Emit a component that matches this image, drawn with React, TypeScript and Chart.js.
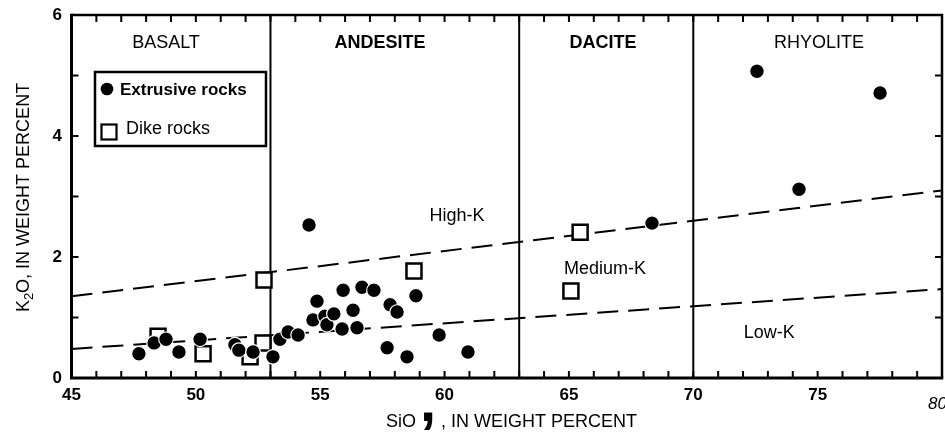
import { useEffect, useRef } from 'react';
import { Chart, registerables } from 'chart.js';

Chart.register(...registerables);

// Extrusive rocks (filled circles): SiO2 and K2O, weight percent
const extrusiveSiO2 = [
  47.71, 48.32, 48.8, 49.32, 50.17, 51.57, 51.73, 52.3, 53.1, 53.38, 53.71, 54.11,
  54.55, 54.87, 54.71, 55.19, 55.27, 55.55, 55.88, 55.92, 56.32, 56.48, 56.68, 57.16,
  57.69, 57.81, 58.09, 58.49, 58.85, 59.78, 60.94, 68.34, 72.56, 77.51, 74.25,
];
const extrusiveK2O = [
  0.4, 0.58, 0.64, 0.43, 0.64, 0.55, 0.46, 0.43, 0.35, 0.64, 0.76, 0.71,
  2.53, 1.27, 0.96, 1.02, 0.88, 1.06, 0.81, 1.45, 1.12, 0.83, 1.5, 1.45,
  0.5, 1.21, 1.09, 0.35, 1.36, 0.71, 0.43, 2.56, 5.07, 4.71, 3.12,
];

// Dike rocks (open squares)
const dikeSiO2 = [48.48, 50.29, 52.18, 52.7, 52.74, 58.77, 65.45, 65.08];
const dikeK2O = [0.69, 0.4, 0.35, 0.58, 1.62, 1.77, 2.41, 1.44];

// Dashed series boundaries
const highKSiO2 = [45, 80];
const highKK2O = [1.35, 3.1];
const lowKSiO2 = [45, 80];
const lowKK2O = [0.48, 1.47];

// Rock-name field boundaries (SiO2)
const fieldBoundaries = [53, 63, 70];

// Axis tick labels
const xTickValues = [45, 50, 55, 60, 65, 70, 75];
const xEndTick = 80;
const yTickValues = [0, 2, 4, 6];

const FONT = '"Liberation Sans", Arial, Helvetica, sans-serif';

const zip = (xs: number[], ys: number[]) => xs.map((v, i) => ({ x: v, y: ys[i] }));

const decorPlugin = {
  id: 'decor',
  beforeDatasetsDraw(chart: any) {
    const { ctx, chartArea: a, scales } = chart;
    const x = scales.x;
    ctx.save();
    ctx.strokeStyle = '#000';
    ctx.lineWidth = 2;
    fieldBoundaries.forEach((v) => {
      const px = x.getPixelForValue(v);
      ctx.beginPath();
      ctx.moveTo(px, a.top);
      ctx.lineTo(px, a.bottom);
      ctx.stroke();
    });
    ctx.restore();
  },
  afterDatasetsDraw(chart: any) {
    const { ctx, chartArea: a, scales } = chart;
    const x = scales.x;
    const y = scales.y;
    ctx.save();
    ctx.strokeStyle = '#000';
    ctx.lineCap = 'butt';

    // frame
    ctx.lineWidth = 2.5;
    ctx.beginPath();
    ctx.moveTo(a.left, a.top);
    ctx.lineTo(a.right, a.top);
    ctx.lineTo(a.right, a.bottom);
    ctx.stroke();
    ctx.lineWidth = 3;
    ctx.beginPath();
    ctx.moveTo(a.left, a.top - 1.25);
    ctx.lineTo(a.left, a.bottom);
    ctx.lineTo(a.right + 1.25, a.bottom);
    ctx.stroke();

    // inward tick marks
    const tl = 7;
    ctx.lineWidth = 2;
    for (let v = 46; v < 80; v++) {
      const px = x.getPixelForValue(v);
      ctx.beginPath();
      ctx.moveTo(px, a.bottom);
      ctx.lineTo(px, a.bottom - tl);
      ctx.moveTo(px, a.top);
      ctx.lineTo(px, a.top + tl);
      ctx.stroke();
    }
    for (let v = 1; v < 6; v++) {
      const py = y.getPixelForValue(v);
      ctx.beginPath();
      ctx.moveTo(a.left, py);
      ctx.lineTo(a.left + tl, py);
      ctx.moveTo(a.right, py);
      ctx.lineTo(a.right - tl, py);
      ctx.stroke();
    }
    ctx.restore();
  },
  afterDraw(chart: any) {
    const { ctx, chartArea: a, scales } = chart;
    const x = scales.x;
    const y = scales.y;
    ctx.save();
    ctx.fillStyle = '#000';
    ctx.textBaseline = 'middle';
    ctx.textAlign = 'center';

    // field names
    const fields = [
      { text: 'BASALT', sx: 48.8, bold: false },
      { text: 'ANDESITE', sx: 57.4, bold: true },
      { text: 'DACITE', sx: 66.37, bold: true },
      { text: 'RHYOLITE', sx: 75.05, bold: false },
    ];
    fields.forEach((f) => {
      ctx.font = `${f.bold ? 'bold ' : ''}18px ${FONT}`;
      ctx.fillText(f.text, x.getPixelForValue(f.sx), y.getPixelForValue(5.54));
    });

    // potassium series names
    ctx.font = `18px ${FONT}`;
    ctx.fillText('High-K', x.getPixelForValue(60.5), y.getPixelForValue(2.68));
    ctx.fillText('Medium-K', x.getPixelForValue(66.45), y.getPixelForValue(1.8));
    ctx.fillText('Low-K', x.getPixelForValue(73.05), y.getPixelForValue(0.74));

    // last x tick label, italic
    ctx.font = `italic 17px ${FONT}`;
    ctx.textAlign = 'left';
    ctx.textBaseline = 'alphabetic';
    ctx.fillText(String(xEndTick), x.getPixelForValue(xEndTick) - 14, a.bottom + 31);

    // x-axis title
    ctx.font = `18px ${FONT}`;
    let tx = 386;
    const ty = a.bottom + 49;
    ctx.fillText('SiO', tx, ty);
    tx += ctx.measureText('SiO').width + 4;
    ctx.font = `bold 58px ${FONT}`;
    ctx.fillText(',', tx, ty - 6);
    ctx.font = `18px ${FONT}`;
    ctx.fillText(', IN WEIGHT PERCENT', 441, ty);

    // y-axis title with subscript
    ctx.save();
    ctx.translate(29, 197.5);
    ctx.rotate(-Math.PI / 2);
    const big = `18px ${FONT}`;
    const small = `13px ${FONT}`;
    const parts = [
      { t: 'K', f: big, dy: 0 },
      { t: '2', f: small, dy: 4 },
      { t: 'O, IN WEIGHT PERCENT', f: big, dy: 0 },
    ];
    let total = 0;
    parts.forEach((p) => {
      ctx.font = p.f;
      total += ctx.measureText(p.t).width;
    });
    let cx = -total / 2;
    parts.forEach((p) => {
      ctx.font = p.f;
      ctx.fillText(p.t, cx, p.dy);
      cx += ctx.measureText(p.t).width;
    });
    ctx.restore();

    // legend
    const lx = a.left + 23.5;
    const ly = a.top + 57;
    ctx.fillStyle = '#fff';
    ctx.fillRect(lx, ly, 171, 74);
    ctx.strokeStyle = '#000';
    ctx.lineWidth = 2.5;
    ctx.strokeRect(lx, ly, 171, 74);
    ctx.fillStyle = '#000';
    ctx.beginPath();
    ctx.arc(lx + 12, ly + 17, 6.3, 0, Math.PI * 2);
    ctx.fill();
    ctx.lineWidth = 2.2;
    ctx.strokeRect(lx + 6.5, ly + 52.5, 15, 15);
    ctx.textBaseline = 'middle';
    ctx.textAlign = 'left';
    ctx.font = `bold 17px ${FONT}`;
    ctx.fillText('Extrusive rocks', lx + 25, ly + 18);
    ctx.font = `18px ${FONT}`;
    ctx.fillText('Dike rocks', lx + 31, ly + 57);

    ctx.restore();
  },
};

export default function App() {
  const canvasRef = useRef<HTMLCanvasElement | null>(null);

  useEffect(() => {
    document.body.style.margin = '0';
    const canvas = canvasRef.current;
    if (!canvas) return;
    const tickFont = { family: FONT, size: 17, weight: 'bold' as const };

    const chart = new Chart(canvas, {
      type: 'scatter',
      data: {
        datasets: [
          {
            label: 'Extrusive rocks',
            data: zip(extrusiveSiO2, extrusiveK2O),
            pointStyle: 'circle',
            pointRadius: 7.3,
            backgroundColor: '#000',
            borderColor: '#fff',
            borderWidth: 1.2,
          },
          {
            label: 'Dike rocks',
            data: zip(dikeSiO2, dikeK2O),
            pointStyle: 'rect',
            pointRadius: 10.6,
            backgroundColor: '#fff',
            borderColor: '#000',
            borderWidth: 2.5,
          },
          {
            label: 'High-K boundary',
            data: zip(highKSiO2, highKK2O),
            showLine: true,
            pointRadius: 0,
            borderColor: '#000',
            borderWidth: 2,
            borderDash: [21, 10],
          },
          {
            label: 'Low-K boundary',
            data: zip(lowKSiO2, lowKK2O),
            showLine: true,
            pointRadius: 0,
            borderColor: '#000',
            borderWidth: 2,
            borderDash: [21, 10],
          },
        ],
      },
      options: {
        responsive: false,
        animation: false,
        devicePixelRatio: 1,
        layout: { autoPadding: false, padding: { top: 15, right: 3, left: 0, bottom: 0 } },
        plugins: { legend: { display: false }, tooltip: { enabled: false } },
        scales: {
          x: {
            type: 'linear',
            min: 45,
            max: 80,
            afterFit: (s: any) => {
              s.height = 57;
              s.paddingLeft = 0;
              s.paddingRight = 0;
            },
            afterBuildTicks: (s: any) => {
              s.ticks = xTickValues.map((v) => ({ value: v }));
            },
            ticks: {
              font: tickFont,
              color: '#000',
              padding: 7,
              maxRotation: 0,
              autoSkip: false,
            },
            grid: { display: false, drawTicks: false },
            border: { display: false },
          },
          y: {
            type: 'linear',
            min: 0,
            max: 6,
            afterFit: (s: any) => {
              s.width = 71.5;
              s.paddingTop = 0;
              s.paddingBottom = 0;
            },
            afterBuildTicks: (s: any) => {
              s.ticks = yTickValues.map((v) => ({ value: v }));
            },
            ticks: {
              font: tickFont,
              color: '#000',
              padding: 9.5,
              autoSkip: false,
            },
            grid: { display: false, drawTicks: false },
            border: { display: false },
          },
        },
      },
      plugins: [decorPlugin],
    });

    return () => chart.destroy();
  }, []);

  return (
    <div style={{ width: 945, height: 435, background: '#fff' }}>
      <canvas ref={canvasRef} width={945} height={435} style={{ display: 'block' }} />
    </div>
  );
}
